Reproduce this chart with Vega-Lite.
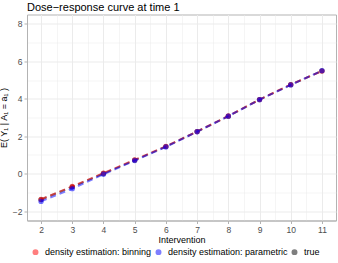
{
  "$schema": "https://vega.github.io/schema/vega-lite/v6.json",
  "width": 309,
  "height": 206,
  "autosize": {"type": "none"},
  "padding": {"left": 27, "top": 14.5, "right": 2, "bottom": 42.5},
  "background": "white",
  "config": {
    "font": "Liberation Sans",
    "view": {"stroke": "#B3B3B3", "strokeWidth": 1}
  },
  "title": {
    "text": "Dose\u2212response curve at time 1",
    "anchor": "start",
    "frame": "group",
    "fontSize": 11,
    "fontWeight": "normal",
    "color": "#000000",
    "offset": 2
  },
  "data": {
    "values": [
      {"a": 2, "y": -1.37, "method": "density estimation: binning"},
      {"a": 3, "y": -0.68, "method": "density estimation: binning"},
      {"a": 4, "y": 0.03, "method": "density estimation: binning"},
      {"a": 5, "y": 0.74, "method": "density estimation: binning"},
      {"a": 6, "y": 1.46, "method": "density estimation: binning"},
      {"a": 7, "y": 2.25, "method": "density estimation: binning"},
      {"a": 8, "y": 3.08, "method": "density estimation: binning"},
      {"a": 9, "y": 3.96, "method": "density estimation: binning"},
      {"a": 10, "y": 4.76, "method": "density estimation: binning"},
      {"a": 11, "y": 5.48, "method": "density estimation: binning"},
      {"a": 2, "y": -1.48, "method": "density estimation: parametric"},
      {"a": 3, "y": -0.80, "method": "density estimation: parametric"},
      {"a": 4, "y": -0.03, "method": "density estimation: parametric"},
      {"a": 5, "y": 0.70, "method": "density estimation: parametric"},
      {"a": 6, "y": 1.43, "method": "density estimation: parametric"},
      {"a": 7, "y": 2.24, "method": "density estimation: parametric"},
      {"a": 8, "y": 3.07, "method": "density estimation: parametric"},
      {"a": 9, "y": 3.95, "method": "density estimation: parametric"},
      {"a": 10, "y": 4.74, "method": "density estimation: parametric"},
      {"a": 11, "y": 5.50, "method": "density estimation: parametric"},
      {"a": 2, "y": -1.38, "method": "true"},
      {"a": 3, "y": -0.70, "method": "true"},
      {"a": 4, "y": 0.01, "method": "true"},
      {"a": 5, "y": 0.72, "method": "true"},
      {"a": 6, "y": 1.45, "method": "true"},
      {"a": 7, "y": 2.25, "method": "true"},
      {"a": 8, "y": 3.07, "method": "true"},
      {"a": 9, "y": 3.96, "method": "true"},
      {"a": 10, "y": 4.75, "method": "true"},
      {"a": 11, "y": 5.49, "method": "true"}
    ]
  },
  "encoding": {
    "x": {
      "field": "a",
      "type": "quantitative",
      "scale": {"domain": [1.55, 11.45], "nice": false, "zero": false},
      "axis": {
        "title": "Intervention",
        "values": [2, 2.5, 3, 3.5, 4, 4.5, 5, 5.5, 6, 6.5, 7, 7.5, 8, 8.5, 9, 9.5, 10, 10.5, 11],
        "labelExpr": "datum.value % 1 === 0 ? '' + datum.value : ''",
        "labelFontSize": 8.5,
        "labelColor": "#4D4D4D",
        "labelPadding": 2,
        "titleFontSize": 9,
        "titleFontWeight": "normal",
        "titleColor": "#000000",
        "titlePadding": 1,
        "domain": true,
        "domainColor": "#B3B3B3",
        "tickSize": 3,
        "tickColor": {"condition": {"test": "datum.value % 1 !== 0", "value": "transparent"}, "value": "#B3B3B3"},
        "gridColor": "#EBEBEB",
        "gridWidth": {"condition": {"test": "datum.value % 1 !== 0", "value": 0.5}, "value": 1}
      }
    },
    "y": {
      "field": "y",
      "type": "quantitative",
      "scale": {"domain": [-2.5, 8.5], "nice": false, "zero": false},
      "axis": {
        "title": "E( Y\u2081 | A\u2081 = a\u2081 )",
        "values": [-2, -1, 0, 1, 2, 3, 4, 5, 6, 7, 8],
        "labelExpr": "datum.value % 2 === 0 ? replace('' + datum.value, '-', '\u2212') : ''",
        "labelFontSize": 8.5,
        "labelColor": "#4D4D4D",
        "labelPadding": 2,
        "titleFontSize": 9,
        "titleFontWeight": "normal",
        "titleColor": "#000000",
        "titlePadding": 4,
        "domain": true,
        "domainColor": "#B3B3B3",
        "tickSize": 3,
        "tickColor": {"condition": {"test": "datum.value % 2 !== 0", "value": "transparent"}, "value": "#B3B3B3"},
        "gridColor": "#EBEBEB",
        "gridWidth": {"condition": {"test": "datum.value % 2 !== 0", "value": 0.5}, "value": 1}
      }
    },
    "color": {
      "field": "method",
      "type": "nominal",
      "scale": {
        "domain": ["density estimation: binning", "density estimation: parametric", "true"],
        "range": ["#FF0000", "#0000FF", "#000000"]
      },
      "legend": {
        "title": null,
        "orient": "none",
        "direction": "horizontal",
        "legendX": 4,
        "legendY": 233,
        "labelFontSize": 9,
        "labelColor": "#000000",
        "symbolType": "circle",
        "symbolSize": 20,
        "symbolOpacity": 0.5,
        "columnPadding": 1,
        "labelOffset": 5
      }
    }
  },
  "layer": [
    {
      "transform": [{"filter": "datum.method === 'true'"}],
      "mark": {"type": "line", "strokeDash": [6, 4], "strokeWidth": 2, "opacity": 0.5}
    },
    {
      "transform": [{"filter": "datum.method === 'true'"}],
      "mark": {"type": "point", "filled": true, "size": 28, "opacity": 0.55}
    },
    {
      "transform": [{"filter": "datum.method === 'density estimation: binning'"}],
      "mark": {"type": "line", "strokeDash": [6, 4], "strokeWidth": 2, "opacity": 0.5}
    },
    {
      "transform": [{"filter": "datum.method === 'density estimation: binning'"}],
      "mark": {"type": "point", "filled": true, "size": 28, "opacity": 0.55}
    },
    {
      "transform": [{"filter": "datum.method === 'density estimation: parametric'"}],
      "mark": {"type": "line", "strokeDash": [6, 4], "strokeWidth": 2, "opacity": 0.5}
    },
    {
      "transform": [{"filter": "datum.method === 'density estimation: parametric'"}],
      "mark": {"type": "point", "filled": true, "size": 28, "opacity": 0.55}
    }
  ]
}
